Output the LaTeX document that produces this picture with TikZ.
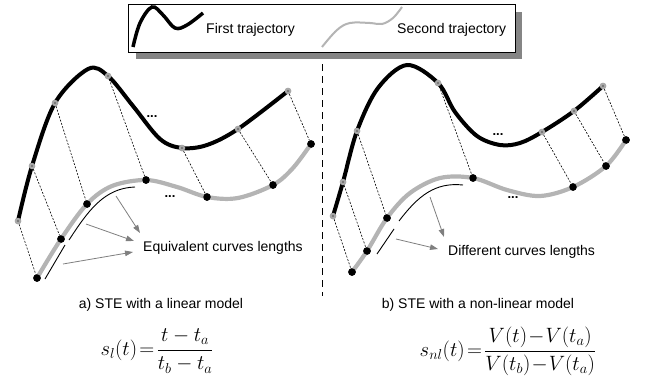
\documentclass[tikz,border=0pt]{standalone}
\usepackage{fontspec}
\setmainfont{Liberation Sans}
\usetikzlibrary{arrows.meta}
\definecolor{curvegrey}{HTML}{B4B4B4}
\definecolor{ptgrey}{HTML}{A8A8A8}
\definecolor{ptdark}{HTML}{6A6A6A}
\definecolor{arrowgrey}{HTML}{7F7F7F}
\definecolor{shadowgrey}{HTML}{858585}
\begin{document}
\begin{tikzpicture}[x=1pt,y=-1pt,
  blackcurve/.style={line width=4pt, line cap=round},
  greycurve/.style={line width=4.2pt, draw=curvegrey, line cap=round},
  pta/.style={circle, fill=ptgrey, inner sep=0pt, minimum size=6.5pt,
    path picture={\fill[ptdark] (path picture bounding box.center) circle (1.1pt);}},
  ptb/.style={circle, fill=black, inner sep=0pt, minimum size=7.5pt},
  link/.style={dash pattern=on 2pt off 1.5pt, line width=0.6pt},
  lenarrow/.style={draw=arrowgrey, line width=0.8pt, -{Triangle[length=8pt,width=5.5pt]}},
  thinarc/.style={line width=0.9pt},
  lbl/.style={font=\fontsize{14}{16}\selectfont, inner sep=0pt},
  dots/.style={font=\fontsize{13}{15}\selectfont\bfseries, inner sep=0pt},
  eqna/.style={font=\fontsize{21}{24}\selectfont, inner sep=0pt},
  eqnb/.style={font=\fontsize{19.5}{23}\selectfont, inner sep=0pt}
]
\useasboundingbox (0,0) rectangle (646,380);

% divider
\draw[line width=0.8pt, dash pattern=on 7pt off 5pt] (322,52) coordinate (dvtop) -- (322,296) coordinate (dvbot);

% legend
\fill[shadowgrey] (136,12) rectangle (522,59);
\draw[fill=white, line width=0.8pt] (128,4) rectangle (515,52);
\draw[line width=3.5pt] plot[smooth, tension=0.6] coordinates {(133,47) (140,23) (152,7) (163,15) (175,28) (187,25) (203,13)};
\node[lbl, anchor=west] (leg1) at (206,30) {First trajectory};
\draw[line width=2pt, curvegrey] plot[smooth, tension=0.6] coordinates {(322,47) (337,30) (350,23) (370,23) (382,24) (393,18) (402,7)};
\node[lbl, anchor=west] (leg2) at (397,30) {Second trajectory};

% ---------------- left panel ----------------
\node[pta] (la1) at (18,221) {};
\node[pta] (la2) at (32,166) {};
\node[pta] (la3) at (55,103) {};
\node[pta] (la4) at (108,76) {};
\node[pta] (la5) at (182,148) {};
\node[pta] (la6) at (238,129) {};
\node[pta] (la7) at (288,91) {};
\node[ptb] (lb1) at (37,278) {};
\node[ptb] (lb2) at (61,239) {};
\node[ptb] (lb3) at (87,204) {};
\node[ptb] (lb4) at (146,180) {};
\node[ptb] (lb5) at (207,197) {};
\node[ptb] (lb6) at (273,185) {};
\node[ptb] (lb7) at (311,144) {};

\draw[blackcurve] plot[smooth, tension=0.55] coordinates {(la1.center) (la2.center) (la3.center) (88,69) (la4.center) (133,106) (160,139) (la5.center) (207,145) (la6.center) (la7.center)};
\draw[greycurve] plot[smooth, tension=0.55] coordinates {(lb1.center) (lb2.center) (lb3.center) (112,186) (lb4.center) (177,187) (lb5.center) (238,198) (lb6.center) (293,168) (lb7.center)};

\foreach \i in {1,...,7} {\draw[link] (la\i) -- (lb\i);}
\foreach \i in {1,...,7} {\node[pta] at (la\i.center) {};}
\foreach \i in {1,...,7} {\node[ptb] at (lb\i.center) {};}

\node[dots] (ldA) at (152,117) {...};
\node[dots] (ldB) at (170,197) {...};

\coordinate (lt1s) at (45,279);
\coordinate (lt1e) at (65,245);
\draw[thinarc] (lt1s) -- (lt1e);
\coordinate (lt2s) at (69,240);
\coordinate (lt2e) at (135,187);
\draw[thinarc] (lt2s) .. controls (88,211) and (104,188) .. (lt2e);

\node[lbl, anchor=west] (eqlen) at (143,248) {Equivalent curves lengths};
\coordinate (la1s) at (116,196);
\coordinate (la1e) at (140,233);
\coordinate (la2s) at (86,224);
\coordinate (la2e) at (134,241);
\coordinate (la3s) at (63,264);
\coordinate (la3e) at (133,252);
\draw[lenarrow] (la1s) -- (la1e);
\draw[lenarrow] (la2s) -- (la2e);
\draw[lenarrow] (la3s) -- (la3e);

% ---------------- right panel ----------------
\node[pta] (ra1) at (333,216) {};
\node[pta] (ra2) at (343,182) {};
\node[pta] (ra3) at (357,131) {};
\node[pta] (ra4) at (438,83) {};
\node[pta] (ra5) at (542,132) {};
\node[pta] (ra6) at (574,111) {};
\node[pta] (ra7) at (603,86) {};
\node[ptb] (rb1) at (352,272) {};
\node[ptb] (rb2) at (367,251) {};
\node[ptb] (rb3) at (387,218) {};
\node[ptb] (rb4) at (473,178) {};
\node[ptb] (rb5) at (573,187) {};
\node[ptb] (rb6) at (606,166) {};
\node[ptb] (rb7) at (626,140) {};

\draw[blackcurve] plot[smooth, tension=0.55] coordinates {(ra1.center) (ra2.center) (ra3.center) (378,88) (407,65) (ra4.center) (455,112) (477,136) (500,145) (520,143) (ra5.center) (ra6.center) (ra7.center)};
\draw[greycurve] plot[smooth, tension=0.55] coordinates {(rb1.center) (rb2.center) (rb3.center) (410,193) (440,178) (rb4.center) (507,190) (540,196) (rb5.center) (rb6.center) (rb7.center)};

\foreach \i in {1,...,7} {\draw[link] (ra\i) -- (rb\i);}
\foreach \i in {1,...,7} {\node[pta] at (ra\i.center) {};}
\foreach \i in {1,...,7} {\node[ptb] at (rb\i.center) {};}

\node[dots] (rdA) at (498,135) {...};
\node[dots] (rdB) at (513,198) {...};

\coordinate (rt1s) at (377,254);
\coordinate (rt1e) at (394,229);
\draw[thinarc] (rt1s) -- (rt1e);
\coordinate (rt2s) at (399,221);
\coordinate (rt2e) at (463,185);
\draw[thinarc] (rt2s) .. controls (418,196) and (435,182) .. (rt2e);

\node[lbl, anchor=west] (dflen) at (448,252) {Different curves lengths};
\coordinate (ra1s) at (430,197);
\coordinate (ra1e) at (444,237);
\coordinate (ra2s) at (396,239);
\coordinate (ra2e) at (438,249);
\draw[lenarrow] (ra1s) -- (ra1e);
\draw[lenarrow] (ra2s) -- (ra2e);

% captions and formulas
\node[lbl] (capa) at (161,305) {a) STE with a linear model};
\node[lbl] (capb) at (478,305) {b) STE with a non-linear model};
\node[eqna] (fa) at (157,351) {$\displaystyle s_{l}(t)\!=\!\frac{t-t_{a}}{t_{b}-t_{a}}$};
\node[eqnb] (fb) at (508,351) {$\displaystyle s_{nl}(t)\!=\!\frac{V(t)\!-\!V(t_{a})}{V(t_{b})\!-\!V(t_{a})}$};
\end{tikzpicture}
\end{document}
